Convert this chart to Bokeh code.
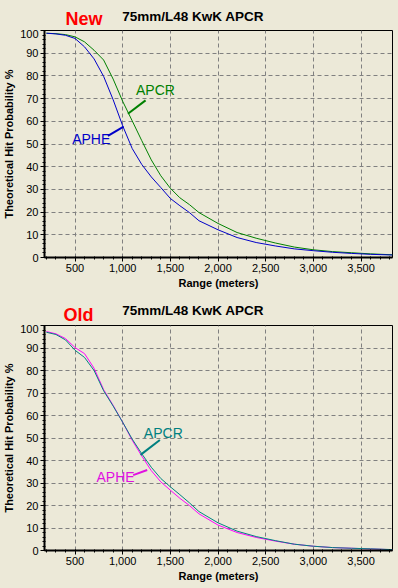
from bokeh.plotting import figure
from bokeh.models import Range1d, FixedTicker, Label, NumeralTickFormatter
from bokeh.layouts import column
from bokeh.embed import file_html
from bokeh.resources import INLINE
from bokeh.core.properties import value

# ---------------- data ----------------
range_m = [200, 300, 400, 500, 600, 700, 800, 900, 1000, 1100, 1200, 1300, 1400,
           1500, 1600, 1700, 1800, 2000, 2200, 2400, 2600, 2800, 3000, 3200,
           3400, 3600, 3830]

new_aphe = [98.8, 98.5, 97.9, 96.5, 92.8, 87.5, 79.8, 69.5, 58.0, 48.0, 41.0, 35.5, 30.8,
            26.0, 22.8, 19.8, 16.2, 12.2, 8.8, 6.6, 5.1, 3.8, 3.0, 2.3, 1.8, 1.4, 1.1]
new_apcr = [98.8, 98.6, 98.2, 97.2, 95.0, 91.3, 87.0, 78.6, 68.8, 60.2, 51.5, 43.0, 36.0,
            30.5, 26.3, 23.3, 19.8, 15.0, 11.0, 8.5, 6.4, 4.6, 3.4, 2.6, 2.1, 1.6, 1.2]

old_aphe = [97.3, 96.3, 94.2, 90.2, 87.5, 81.0, 71.5, 64.5, 57.0, 49.0, 42.0, 35.5, 30.5,
            26.8, 23.2, 20.0, 16.3, 11.3, 8.0, 5.8, 4.2, 2.8, 1.9, 1.3, 1.0, 0.7, 0.35]
old_apcr = [97.0, 96.0, 93.6, 89.0, 85.8, 80.0, 71.0, 64.2, 57.0, 49.5, 43.0, 37.0, 32.0,
            28.3, 24.8, 21.2, 17.3, 12.3, 8.6, 6.2, 4.4, 2.8, 1.9, 1.3, 1.0, 0.75, 0.4]

x_ticks = [500, 1000, 1500, 2000, 2500, 3000, 3500]
y_ticks = [0, 10, 20, 30, 40, 50, 60, 70, 80, 90, 100]

chart_title = "75mm/L48 KwK  APCR"
x_label = "Range (meters)"
y_label = "Theoretical Hit Probability %"

BG = "#ECE9D8"
FONT = "Liberation Sans"
W = 398
BL, BR = 44, 6


def make_header(xr, height, tag, tag_x, tag_y, title_x, title_y):
    h = figure(width=W, height=height, output_backend="svg", toolbar_location=None,
               x_range=xr, y_range=Range1d(0, height),
               x_axis_location=None, y_axis_location=None,
               min_border_left=BL, min_border_right=BR, min_border_top=0, min_border_bottom=0)
    h.background_fill_color = BG
    h.border_fill_color = BG
    h.outline_line_color = None
    h.xgrid.visible = False
    h.ygrid.visible = False
    h.text(x=[tag_x], y=[tag_y], text=[tag], text_color="#FF0000",
           text_font=value(FONT), text_font_size="18px", text_font_style="bold",
           text_baseline="middle", text_align="left")
    h.text(x=[title_x], y=[title_y], text=[chart_title], text_color="black",
           text_font=value(FONT), text_font_size="13.5px", text_font_style="bold",
           text_baseline="middle", text_align="left")
    return h


def make_chart(xr, series, notes, height, border_bottom):
    p = figure(width=W, height=height, output_backend="svg", toolbar_location=None,
               x_range=xr, y_range=Range1d(0, 100),
               min_border_left=BL, min_border_right=BR,
               min_border_top=1, min_border_bottom=border_bottom)
    p.background_fill_color = BG
    p.border_fill_color = BG
    p.outline_line_color = "black"
    p.outline_line_width = 1

    p.xaxis.ticker = FixedTicker(ticks=x_ticks, minor_ticks=list(range(200, 3900, 100)))
    p.yaxis.ticker = FixedTicker(ticks=y_ticks, minor_ticks=list(range(0, 101, 2)))
    p.xaxis.formatter = NumeralTickFormatter(format="0,0")

    for ax in (p.xaxis, p.yaxis):
        ax.axis_line_width = 2
        ax.axis_line_color = "black"
        ax.major_tick_line_color = "black"
        ax.minor_tick_line_color = "black"
        ax.major_tick_out = 4
        ax.major_tick_in = 0
        ax.minor_tick_out = 2
        ax.minor_tick_in = 1
        ax.major_label_text_font = FONT
        ax.major_label_text_font_size = "11px"
        ax.major_label_text_color = "black"
        ax.major_label_standoff = 2
        ax.axis_label_text_font = FONT
        ax.axis_label_text_font_size = "11px"
        ax.axis_label_text_font_style = "bold"
        ax.axis_label_text_color = "black"
        ax.axis_label_standoff = 2
    p.xaxis.axis_label = x_label
    p.yaxis.axis_label = y_label

    for g in (p.xgrid, p.ygrid):
        g.grid_line_color = "#808080"
        g.grid_line_dash = "4 3"
        g.grid_line_width = 1

    for ys, color in series:
        p.line(range_m, ys, line_color=color, line_width=1)

    for (txt, lx, ly, color, x0, y0, x1, y1) in notes:
        p.segment(x0=[x0], y0=[y0], x1=[x1], y1=[y1], line_color=color, line_width=2)
        p.add_layout(Label(x=lx, y=ly, text=txt, text_color=color, text_font=FONT,
                           text_font_size="14px", text_baseline="middle", text_align="left"))
    return p


xr_top = Range1d(180, 3830)
xr_bot = Range1d(180, 3830)

head_top = make_header(xr_top, 29, "New", 400, 10.5, 995, 13)
top = make_chart(xr_top,
                 [(new_apcr, "#008000"), (new_aphe, "#0000C8")],
                 [("APCR", 1140, 73.6, "#008000", 1240, 69.2, 1055, 63.3),
                  ("APHE", 470, 52.1, "#0000C8", 845, 53.6, 1010, 57.7)],
                 height=266, border_bottom=38)

head_bot = make_header(xr_bot, 29, "Old", 379, 10, 995, 14)
bottom = make_chart(xr_bot,
                    [(old_aphe, "#FF00FF"), (old_apcr, "#008080")],
                    [("APCR", 1222, 52.3, "#008080", 1390, 49.1, 1187, 42.5),
                     ("APHE", 725, 32.8, "#E010E0", 1110, 33.5, 1257, 35.8)],
                    height=264, border_bottom=38)

layout = column(head_top, top, head_bot, bottom, spacing=0)
layout.styles = {"background-color": BG}

open("out.html", "w").write(file_html(layout, INLINE))
